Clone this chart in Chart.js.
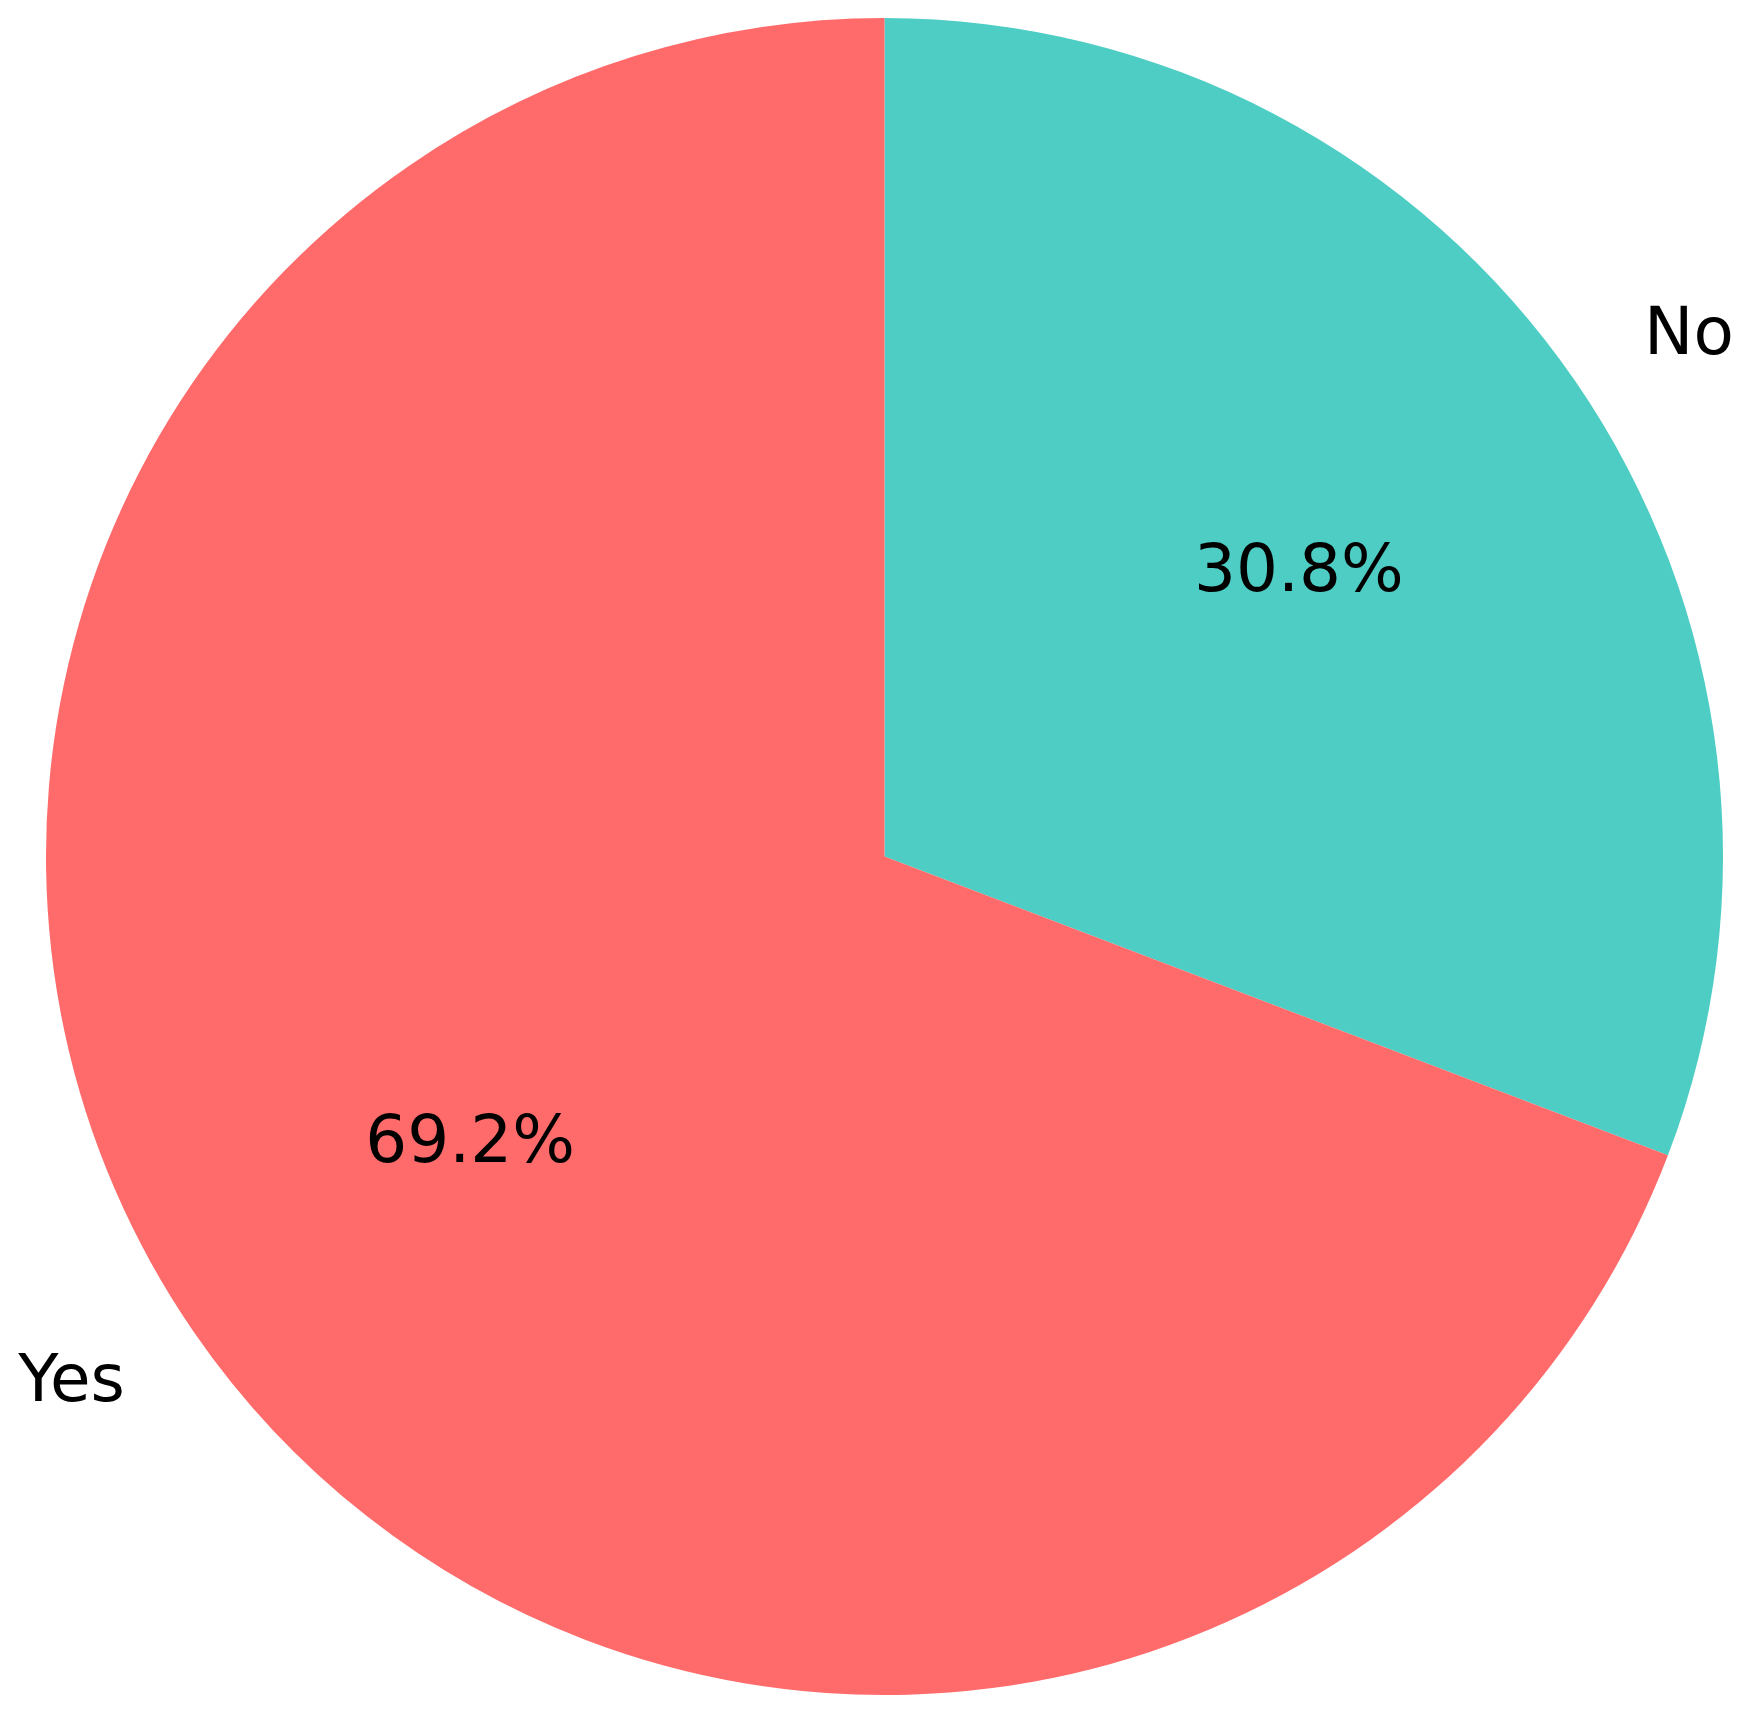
<!DOCTYPE html>
<html>
<head>
<meta charset="utf-8">
<script src="https://cdn.jsdelivr.net/npm/chart.js@4"></script>
<style>
  html, body { margin: 0; padding: 0; background: #fff; }
  #wrap { width: 1746px; height: 1716px; }
</style>
</head>
<body>
<div id="wrap"><canvas id="pieChart" width="1746" height="1716"></canvas></div>
<script>
// Data (clockwise from 12 o'clock)
const labels = ["No", "Yes"];
const values = [30.8, 69.2];
const colors = ["#4ECDC4", "#FF6B6B"];

// Draw percent labels inside and category labels outside, like matplotlib autopct
const sliceLabels = {
  id: "sliceLabels",
  afterDatasetsDraw(chart) {
    const ctx = chart.ctx;
    const meta = chart.getDatasetMeta(0);
    const total = values.reduce((a, b) => a + b, 0);
    ctx.save();
    ctx.fillStyle = "#000";
    ctx.font = "66px 'DejaVu Sans'";
    ctx.textBaseline = "middle";
    meta.data.forEach(function(arc, i) {
      const p = arc.getProps(["x", "y", "startAngle", "endAngle", "outerRadius"], true);
      const mid = (p.startAngle + p.endAngle) / 2;
      const c = Math.cos(mid), s = Math.sin(mid);
      // percent text
      ctx.textAlign = "center";
      ctx.fillText((values[i] / total * 100).toFixed(1) + "%", p.x + c * p.outerRadius * 0.6, p.y + s * p.outerRadius * 0.6 + 3);
      // category label
      ctx.textAlign = c > 0 ? "left" : "right";
      ctx.fillText(labels[i], p.x + c * p.outerRadius * 1.1, p.y + s * p.outerRadius * 1.1 + 4);
    });
    ctx.restore();
  }
};

new Chart(document.getElementById("pieChart").getContext("2d"), {
  type: "pie",
  data: {
    labels: labels,
    datasets: [{
      data: values,
      backgroundColor: colors,
      borderWidth: 0
    }]
  },
  options: {
    responsive: false,
    animation: false,
    layout: { padding: { left: 45, right: 22, top: 18, bottom: 21 } },
    plugins: {
      legend: { display: false },
      tooltip: { enabled: false }
    }
  },
  plugins: [sliceLabels]
});
</script>
</body>
</html>
